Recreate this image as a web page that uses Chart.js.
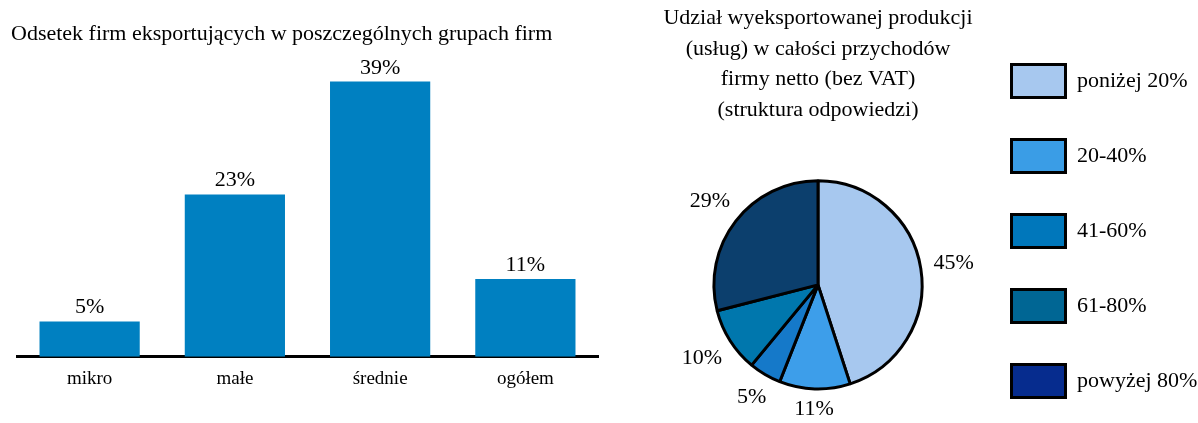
<!DOCTYPE html>
<html>
<head>
<meta charset="utf-8">
<script src="https://cdn.jsdelivr.net/npm/chart.js@4.4.0/dist/chart.umd.min.js"></script>
<style>
  body { margin: 0; background: #fff; }
  #wrap { position: relative; width: 1198px; height: 423px; }
  #barBox { position: absolute; left: 0; top: 0; width: 600px; height: 423px; }
  #pieBox { position: absolute; left: 600px; top: 0; width: 598px; height: 423px; }
</style>
</head>
<body>
<div id="wrap">
  <div id="barBox"><canvas id="barChart"></canvas></div>
  <div id="pieBox"><canvas id="pieChart"></canvas></div>
</div>
<script>
// bar chart data
const groupLabels = ['mikro', 'małe', 'średnie', 'ogółem'];
const exportShare = [5, 23, 39, 11];

// pie chart data
const shareLabels = ['poniżej 20%', '20-40%', '41-60%', '61-80%', 'powyżej 80%'];
const shareValues = [45, 11, 5, 10, 29];
const pieColors = ['#a7c8ef', '#3d9eea', '#1579c9', '#0077ad', '#0c3f6d'];
const legendColors = ['#a7c8ef', '#3a9de6', '#0077bb', '#006694', '#062c8e'];

const serif = "'Liberation Serif', 'Times New Roman', serif";

// --- plugins ---

const barValueLabels = {
  id: 'barValueLabels',
  afterDatasetsDraw(chart) {
    const ctx = chart.ctx;
    const meta = chart.getDatasetMeta(0);
    ctx.save();
    ctx.font = '22px ' + serif;
    ctx.fillStyle = '#000';
    ctx.textAlign = 'center';
    ctx.textBaseline = 'alphabetic';
    meta.data.forEach((bar, i) => {
      ctx.fillText(exportShare[i] + '%', bar.x, bar.y - 8);
    });
    ctx.restore();
  }
};

const pieValueLabels = {
  id: 'pieValueLabels',
  afterDatasetsDraw(chart) {
    const ctx = chart.ctx;
    const meta = chart.getDatasetMeta(0);
    ctx.save();
    ctx.font = '22px ' + serif;
    ctx.fillStyle = '#000';
    ctx.textAlign = 'center';
    ctx.textBaseline = 'middle';
    meta.data.forEach((arc, i) => {
      const p = arc.getProps(['x', 'y', 'startAngle', 'endAngle', 'outerRadius'], true);
      const mid = (p.startAngle + p.endAngle) / 2;
      const text = shareValues[i] + '%';
      const w = ctx.measureText(text).width;
      const c = Math.cos(mid), s = Math.sin(mid);
      const dist = p.outerRadius + 12 + Math.abs(c) * w / 2 + Math.abs(s) * 8;
      ctx.fillText(text, p.x + c * dist, p.y + s * dist);
    });
    ctx.restore();
  }
};

const boxLegend = {
  id: 'boxLegend',
  afterDraw(chart) {
    const ctx = chart.ctx;
    const left = chart.chartArea.right + 9.5;
    const top = 64.5;
    const step = 75;
    ctx.save();
    ctx.font = '22px ' + serif;
    ctx.textBaseline = 'middle';
    ctx.textAlign = 'left';
    shareLabels.forEach((label, i) => {
      const y = top + i * step;
      ctx.fillStyle = legendColors[i];
      ctx.fillRect(left, y, 54, 33);
      ctx.lineWidth = 3;
      ctx.strokeStyle = '#000';
      ctx.strokeRect(left, y, 54, 33);
      ctx.fillStyle = '#000';
      ctx.fillText(label, left + 65.5, y + 17);
    });
    ctx.restore();
  }
};

// --- bar chart ---

new Chart(document.getElementById('barChart'), {
  type: 'bar',
  data: {
    labels: groupLabels,
    datasets: [{
      data: exportShare,
      backgroundColor: '#0080c1',
      barPercentage: 0.69,
      categoryPercentage: 1
    }]
  },
  options: {
    responsive: true,
    maintainAspectRatio: false,
    animation: false,
    layout: { padding: { left: 11, right: 2, top: 0, bottom: 21.5 } },
    plugins: {
      legend: { display: false },
      tooltip: { enabled: false },
      title: {
        display: true,
        text: 'Odsetek firm eksportujących w poszczególnych grupach firm',
        align: 'start',
        color: '#000',
        font: { family: serif, size: 22, weight: 'normal', lineHeight: 1.2 },
        padding: { top: 21, bottom: 13 }
      }
    },
    scales: {
      x: {
        grid: { display: false, drawTicks: false },
        border: { display: true, color: '#000', width: 3 },
        ticks: { color: '#000', font: { family: serif, size: 19 }, padding: 11 }
      },
      y: {
        min: 0,
        max: 42,
        grid: { display: false, drawTicks: false },
        border: { display: false },
        ticks: { display: false },
        afterFit(scale) { scale.width = 6; }
      }
    }
  },
  plugins: [barValueLabels]
});

// --- pie chart ---

new Chart(document.getElementById('pieChart'), {
  type: 'pie',
  data: {
    labels: shareLabels,
    datasets: [{
      data: shareValues,
      backgroundColor: pieColors,
      borderColor: '#000',
      borderWidth: 3
    }]
  },
  options: {
    responsive: true,
    maintainAspectRatio: false,
    animation: false,
    layout: { padding: { left: 34, right: 196, top: 0, bottom: 32.5 } },
    plugins: {
      legend: { display: false },
      tooltip: { enabled: false },
      title: {
        display: true,
        text: [
          'Udział wyeksportowanej produkcji',
          '(usług) w całości przychodów',
          'firmy netto (bez VAT)',
          '(struktura odpowiedzi)'
        ],
        color: '#000',
        font: { family: serif, size: 22, weight: 'normal', lineHeight: 1.39 },
        padding: { top: 3, bottom: 54 }
      }
    }
  },
  plugins: [pieValueLabels, boxLegend]
});
</script>
</body>
</html>
